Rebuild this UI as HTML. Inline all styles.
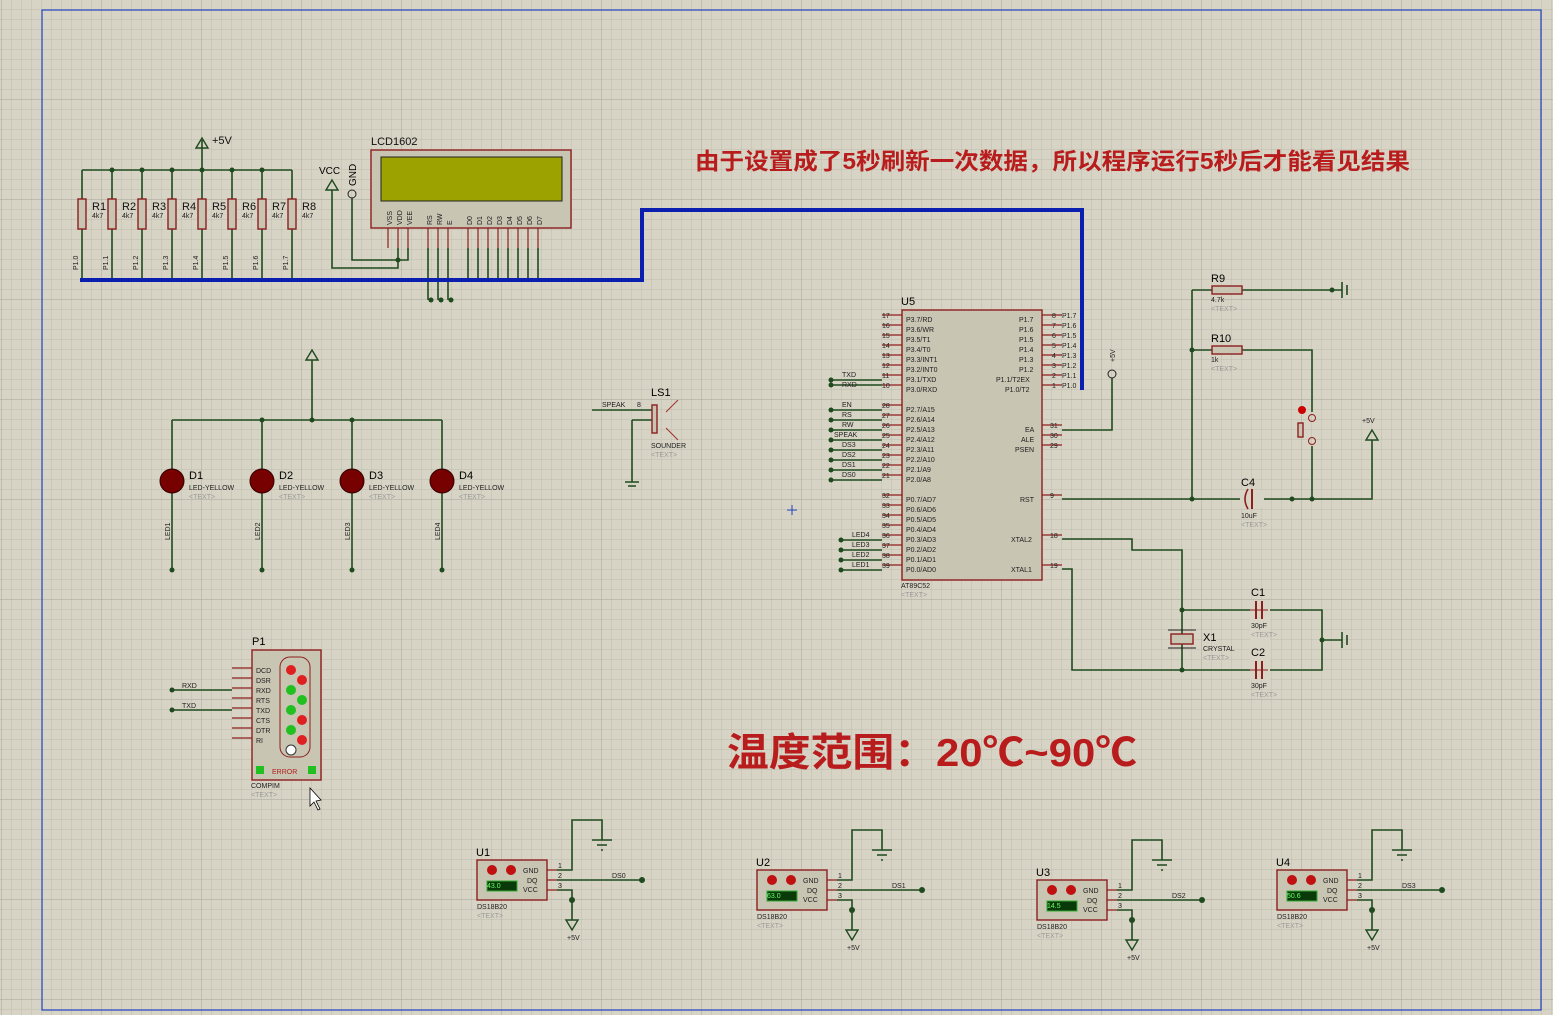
<!DOCTYPE html>
<html><head><meta charset="utf-8"><style>
html,body{margin:0;padding:0;background:#d7d4c5;}
svg{display:block;font-family:"Liberation Sans",Arial,sans-serif;}
.w{stroke:#1f4a1f;stroke-width:1.6;fill:none}
.o{stroke:#8e1e1e;stroke-width:1.4;fill:#c9c5b3}
.p{stroke:#8e1e1e;stroke-width:1.2}
.t{font-size:9px;fill:#202020}
.s{font-size:7px;fill:#202020}
.g{font-size:7px;fill:#9a9a9a}
.l{font-size:12px;fill:#101010;font-weight:bold}
.d{fill:#1f4a1f}
.r{fill:#ee4040}
</style></head><body>
<svg width="1553" height="1015" viewBox="0 0 1553 1015" xmlns="http://www.w3.org/2000/svg">
<defs>
<pattern id="gr" width="10" height="10" patternUnits="userSpaceOnUse" x="2" y="0">
<path d="M10 0V10H0" fill="none" stroke="#bebbad" stroke-width="1"/>
</pattern>
<pattern id="gr2" width="100" height="100" patternUnits="userSpaceOnUse" x="2" y="0">
<path d="M100 0V100H0" fill="none" stroke="#b0ad9f" stroke-width="1.2"/>
</pattern>
<g id="ds">
<rect x="0" y="0" width="70" height="40" class="o"/>
<circle cx="15" cy="10" r="5" fill="#c01010"/><circle cx="34" cy="10" r="5" fill="#c01010"/>
<rect x="10" y="21" width="30" height="10" fill="#0a3a0a" stroke="#3a3"/>
<text x="46" y="13" class="s">GND</text><text x="50" y="23" class="s">DQ</text><text x="46" y="32" class="s">VCC</text>
<path d="M70 10H80M70 20H80M70 30H80" class="p"/>
<text x="81" y="8" class="s">1</text><text x="81" y="18" class="s">2</text><text x="81" y="28" class="s">3</text>
<text x="0" y="49" class="s">DS18B20</text><text x="0" y="58" class="g">&lt;TEXT&gt;</text>
<path d="M80 10H95V-40H125V-20M115 -20H135M120 -15H130M124 -10H126" class="w"/>
<path d="M80 20H165M80 30H95V60" class="w"/>
<circle cx="165" cy="20" r="3" class="d"/><circle cx="95" cy="40" r="3" class="d"/>
<path d="M89 60H101L95 70Z" fill="none" stroke="#1f4a1f" stroke-width="1.4"/>
<text x="90" y="80" class="s">+5V</text>
</g>
</defs>
<rect width="1553" height="1015" fill="#d7d4c5"/>
<rect width="1553" height="1015" fill="url(#gr)"/>
<rect width="1553" height="1015" fill="url(#gr2)"/>
<rect x="42" y="10" width="1499" height="1000" fill="none" stroke="#2040c0" stroke-width="1.2"/>

<!-- resistor bank -->
<path d="M82 170H292M202 170V140" class="w"/>
<path d="M196 148L202 138L208 148Z" fill="none" stroke="#1f4a1f" stroke-width="1.4"/>
<text x="212" y="144" class="l" style="font-size:11px;font-weight:normal">+5V</text>
<g>
<path d="M82 170V280M112 170V280M142 170V280M172 170V280M202 170V280M232 170V280M262 170V280M292 170V280" class="w"/>
<g class="o">
<rect x="78" y="199" width="8" height="30"/><rect x="108" y="199" width="8" height="30"/><rect x="138" y="199" width="8" height="30"/><rect x="168" y="199" width="8" height="30"/><rect x="198" y="199" width="8" height="30"/><rect x="228" y="199" width="8" height="30"/><rect x="258" y="199" width="8" height="30"/><rect x="288" y="199" width="8" height="30"/>
</g>
<g class="d"><circle cx="112" cy="170" r="2.5"/><circle cx="142" cy="170" r="2.5"/><circle cx="172" cy="170" r="2.5"/><circle cx="202" cy="170" r="2.5"/><circle cx="232" cy="170" r="2.5"/><circle cx="262" cy="170" r="2.5"/></g>
<g style="font-size:11px;fill:#101010">
<text x="92" y="210">R1</text><text x="122" y="210">R2</text><text x="152" y="210">R3</text><text x="182" y="210">R4</text><text x="212" y="210">R5</text><text x="242" y="210">R6</text><text x="272" y="210">R7</text><text x="302" y="210">R8</text></g>
<g class="s"><text x="92" y="218">4k7</text><text x="122" y="218">4k7</text><text x="152" y="218">4k7</text><text x="182" y="218">4k7</text><text x="212" y="218">4k7</text><text x="242" y="218">4k7</text><text x="272" y="218">4k7</text><text x="302" y="218">4k7</text></g>
<g class="s">
<text transform="translate(78,270) rotate(-90)">P1.0</text><text transform="translate(108,270) rotate(-90)">P1.1</text><text transform="translate(138,270) rotate(-90)">P1.2</text><text transform="translate(168,270) rotate(-90)">P1.3</text><text transform="translate(198,270) rotate(-90)">P1.4</text><text transform="translate(228,270) rotate(-90)">P1.5</text><text transform="translate(258,270) rotate(-90)">P1.6</text><text transform="translate(288,270) rotate(-90)">P1.7</text></g>
</g>

<!-- LCD -->
<text x="371" y="145" style="font-size:11px;fill:#101010">LCD1602</text>
<rect x="371" y="150" width="200" height="78" class="o"/>
<rect x="381" y="157" width="181" height="44" fill="#9ca300" stroke="#222" stroke-width="1"/>
<g class="s">
<text transform="translate(392,225) rotate(-90)">VSS</text><text transform="translate(402,225) rotate(-90)">VDD</text><text transform="translate(412,225) rotate(-90)">VEE</text>
<text transform="translate(432,225) rotate(-90)">RS</text><text transform="translate(442,225) rotate(-90)">RW</text><text transform="translate(452,225) rotate(-90)">E</text>
<text transform="translate(472,225) rotate(-90)">D0</text><text transform="translate(482,225) rotate(-90)">D1</text><text transform="translate(492,225) rotate(-90)">D2</text><text transform="translate(502,225) rotate(-90)">D3</text><text transform="translate(512,225) rotate(-90)">D4</text><text transform="translate(522,225) rotate(-90)">D5</text><text transform="translate(532,225) rotate(-90)">D6</text><text transform="translate(542,225) rotate(-90)">D7</text>
</g>
<path d="M388 228V248M398 228V248M408 228V248M428 228V248M438 228V248M448 228V248M468 228V248M478 228V248M488 228V248M498 228V248M508 228V248M518 228V248M528 228V248M538 228V248" class="p"/>
<path d="M398 248V268H332V190M408 248V260H352V198M428 248V300M438 248V300M448 248V300M468 248V280M478 248V280M488 248V280M498 248V280M508 248V280M518 248V280M528 248V280M538 248V280" class="w"/>
<circle cx="398" cy="260" r="2.5" class="d"/>
<circle cx="431" cy="300" r="2.5" class="d"/><circle cx="441" cy="300" r="2.5" class="d"/><circle cx="451" cy="300" r="2.5" class="d"/>
<path d="M326 190L332 180L338 190Z" fill="none" stroke="#1f4a1f" stroke-width="1.4"/>
<text x="319" y="174" style="font-size:10px">VCC</text>
<circle cx="352" cy="194" r="4" fill="none" stroke="#1f1f1f"/>
<text transform="translate(356,186) rotate(-90)" style="font-size:10px">GND</text>

<!-- blue bus -->
<path d="M80 280H642V210H1082V390" fill="none" stroke="#0a1fb0" stroke-width="4"/>

<!-- top red text -->
<text x="695" y="169" textLength="715" lengthAdjust="spacingAndGlyphs" style="font-family:'Liberation Sans','Noto Sans CJK SC',sans-serif;font-size:23px;font-weight:bold;fill:#b81c1c">由于设置成了5秒刷新一次数据，所以程序运行5秒后才能看见结果</text>

<!-- LEDs -->
<path d="M312 420V360M172 420H442M172 420V570M262 420V570M352 420V570M442 420V570" class="w"/>
<path d="M306 360L312 350L318 360Z" fill="none" stroke="#1f4a1f" stroke-width="1.4"/>
<g class="d"><circle cx="262" cy="420" r="2.5"/><circle cx="312" cy="420" r="2.5"/><circle cx="352" cy="420" r="2.5"/><circle cx="172" cy="570" r="2.5"/><circle cx="262" cy="570" r="2.5"/><circle cx="352" cy="570" r="2.5"/><circle cx="442" cy="570" r="2.5"/></g>
<g fill="#700" stroke="#300"><circle cx="172" cy="481" r="12"/><circle cx="262" cy="481" r="12"/><circle cx="352" cy="481" r="12"/><circle cx="442" cy="481" r="12"/></g>
<g style="font-size:11px"><text x="189" y="479">D1</text><text x="279" y="479">D2</text><text x="369" y="479">D3</text><text x="459" y="479">D4</text></g>
<g class="s"><text x="189" y="490">LED-YELLOW</text><text x="279" y="490">LED-YELLOW</text><text x="369" y="490">LED-YELLOW</text><text x="459" y="490">LED-YELLOW</text></g>
<g class="g"><text x="189" y="499">&lt;TEXT&gt;</text><text x="279" y="499">&lt;TEXT&gt;</text><text x="369" y="499">&lt;TEXT&gt;</text><text x="459" y="499">&lt;TEXT&gt;</text></g>
<g class="s"><text transform="translate(170,540) rotate(-90)">LED1</text><text transform="translate(260,540) rotate(-90)">LED2</text><text transform="translate(350,540) rotate(-90)">LED3</text><text transform="translate(440,540) rotate(-90)">LED4</text></g>

<!-- sounder -->
<text x="651" y="396" style="font-size:11px">LS1</text>
<text x="602" y="407" class="s">SPEAK</text><text x="637" y="407" class="s">8</text>
<path d="M592 410H652M632 420H652M632 420V482M625 482H639M628 486H636" class="w"/>
<rect x="652" y="405" width="5" height="28" class="o"/>
<path d="M666 412L678 400M666 428L678 440" stroke="#a03030" fill="none"/>
<text x="651" y="448" class="s">SOUNDER</text><text x="651" y="457" class="g">&lt;TEXT&gt;</text>

<!-- U5 -->
<text x="901" y="305" style="font-size:11px">U5</text>
<rect x="902" y="310" width="140" height="270" class="o"/>
<g class="p">
<path d="M882 315H902M882 325H902M882 335H902M882 345H902M882 355H902M882 365H902M882 375H902M882 385H902M882 405H902M882 415H902M882 425H902M882 435H902M882 445H902M882 455H902M882 465H902M882 475H902M882 495H902M882 505H902M882 515H902M882 525H902M882 535H902M882 545H902M882 555H902M882 565H902"/>
<path d="M1042 315H1062M1042 325H1062M1042 335H1062M1042 345H1062M1042 355H1062M1042 365H1062M1042 375H1062M1042 385H1062M1042 425H1062M1042 435H1062M1042 445H1062M1042 495H1062M1042 535H1062M1042 565H1062"/>
</g>
<g class="s">
<text x="906" y="322">P3.7/RD</text><text x="906" y="332">P3.6/WR</text><text x="906" y="342">P3.5/T1</text><text x="906" y="352">P3.4/T0</text><text x="906" y="362">P3.3/INT1</text><text x="906" y="372">P3.2/INT0</text><text x="906" y="382">P3.1/TXD</text><text x="906" y="392">P3.0/RXD</text>
<text x="906" y="412">P2.7/A15</text><text x="906" y="422">P2.6/A14</text><text x="906" y="432">P2.5/A13</text><text x="906" y="442">P2.4/A12</text><text x="906" y="452">P2.3/A11</text><text x="906" y="462">P2.2/A10</text><text x="906" y="472">P2.1/A9</text><text x="906" y="482">P2.0/A8</text>
<text x="906" y="502">P0.7/AD7</text><text x="906" y="512">P0.6/AD6</text><text x="906" y="522">P0.5/AD5</text><text x="906" y="532">P0.4/AD4</text><text x="906" y="542">P0.3/AD3</text><text x="906" y="552">P0.2/AD2</text><text x="906" y="562">P0.1/AD1</text><text x="906" y="572">P0.0/AD0</text>
<text x="1019" y="322">P1.7</text><text x="1019" y="332">P1.6</text><text x="1019" y="342">P1.5</text><text x="1019" y="352">P1.4</text><text x="1019" y="362">P1.3</text><text x="1019" y="372">P1.2</text><text x="996" y="382">P1.1/T2EX</text><text x="1005" y="392">P1.0/T2</text>
<text x="1025" y="432">EA</text><text x="1021" y="442">ALE</text><text x="1015" y="452">PSEN</text><text x="1020" y="502">RST</text><text x="1011" y="542">XTAL2</text><text x="1011" y="572">XTAL1</text>
<text x="882" y="318">17</text><text x="882" y="328">16</text><text x="882" y="338">15</text><text x="882" y="348">14</text><text x="882" y="358">13</text><text x="882" y="368">12</text><text x="882" y="378">11</text><text x="882" y="388">10</text>
<text x="882" y="408">28</text><text x="882" y="418">27</text><text x="882" y="428">26</text><text x="882" y="438">25</text><text x="882" y="448">24</text><text x="882" y="458">23</text><text x="882" y="468">22</text><text x="882" y="478">21</text>
<text x="882" y="498">32</text><text x="882" y="508">33</text><text x="882" y="518">34</text><text x="882" y="528">35</text><text x="882" y="538">36</text><text x="882" y="548">37</text><text x="882" y="558">38</text><text x="882" y="568">39</text>
<text x="1052" y="318">8</text><text x="1052" y="328">7</text><text x="1052" y="338">6</text><text x="1052" y="348">5</text><text x="1052" y="358">4</text><text x="1052" y="368">3</text><text x="1052" y="378">2</text><text x="1052" y="388">1</text>
<text x="1062" y="318">P1.7</text><text x="1062" y="328">P1.6</text><text x="1062" y="338">P1.5</text><text x="1062" y="348">P1.4</text><text x="1062" y="358">P1.3</text><text x="1062" y="368">P1.2</text><text x="1062" y="378">P1.1</text><text x="1062" y="388">P1.0</text>
<text x="1050" y="428">31</text><text x="1050" y="438">30</text><text x="1050" y="448">29</text><text x="1050" y="498">9</text><text x="1050" y="538">18</text><text x="1050" y="568">19</text>
<text x="901" y="588">AT89C52</text>
</g>
<text x="901" y="597" class="g">&lt;TEXT&gt;</text>
<path d="M830 380H882M830 385H882M830 410H882M830 420H882M830 430H882M830 440H882M830 450H882M830 460H882M830 470H882M830 480H882M840 540H882M840 550H882M840 560H882M840 570H882" class="w"/>
<g class="d"><circle cx="831" cy="380" r="2.5"/><circle cx="831" cy="385" r="2.5"/><circle cx="831" cy="410" r="2.5"/><circle cx="831" cy="420" r="2.5"/><circle cx="831" cy="430" r="2.5"/><circle cx="831" cy="440" r="2.5"/><circle cx="831" cy="450" r="2.5"/><circle cx="831" cy="460" r="2.5"/><circle cx="831" cy="470" r="2.5"/><circle cx="831" cy="480" r="2.5"/><circle cx="841" cy="540" r="2.5"/><circle cx="841" cy="550" r="2.5"/><circle cx="841" cy="560" r="2.5"/><circle cx="841" cy="570" r="2.5"/></g>
<g class="s"><text x="842" y="377">TXD</text><text x="842" y="387">RXD</text><text x="842" y="407">EN</text><text x="842" y="417">RS</text><text x="842" y="427">RW</text><text x="834" y="437">SPEAK</text><text x="842" y="447">DS3</text><text x="842" y="457">DS2</text><text x="842" y="467">DS1</text><text x="842" y="477">DS0</text>
<text x="852" y="537">LED4</text><text x="852" y="547">LED3</text><text x="852" y="557">LED2</text><text x="852" y="567">LED1</text></g>
<path d="M1062 430H1112V378" class="w"/><circle cx="1112" cy="374" r="4" fill="none" stroke="#1f1f1f"/>
<text transform="translate(1115,362) rotate(-90)" class="s">+5V</text>

<!-- reset circuit -->
<path d="M1062 499H1372V440M1192 290V499M1192 290H1212M1242 290H1342M1192 350H1212M1242 350H1312V412M1312 446V499" class="w"/>
<path d="M1366 440L1372 430L1378 440Z" fill="none" stroke="#1f4a1f" stroke-width="1.4"/>
<text x="1362" y="423" class="s">+5V</text>
<path d="M1342 282V298M1347 285V295" stroke="#1f4a1f" stroke-width="1.6"/>
<rect x="1212" y="286" width="30" height="8" class="o"/><rect x="1212" y="346" width="30" height="8" class="o"/>
<text x="1211" y="282" style="font-size:11px">R9</text><text x="1211" y="342" style="font-size:11px">R10</text>
<text x="1211" y="302" class="s">4.7k</text><text x="1211" y="311" class="g">&lt;TEXT&gt;</text>
<text x="1211" y="362" class="s">1k</text><text x="1211" y="371" class="g">&lt;TEXT&gt;</text>
<circle cx="1312" cy="418" r="3.5" fill="none" stroke="#8e1e1e"/><circle cx="1312" cy="441" r="3.5" fill="none" stroke="#8e1e1e"/>
<rect x="1298" y="423" width="5" height="14" class="o"/><circle cx="1302" cy="410" r="4" fill="#c00"/>
<rect x="1240" y="490" width="24" height="18" fill="#d7d4c5"/>
<path d="M1252 489V509" stroke="#8e1e1e" stroke-width="2"/><path d="M1248 489Q1242 499 1248 509" fill="none" stroke="#8e1e1e" stroke-width="1.6"/>
<text x="1241" y="486" style="font-size:11px">C4</text><text x="1241" y="518" class="s">10uF</text><text x="1241" y="527" class="g">&lt;TEXT&gt;</text>
<g class="d"><circle cx="1332" cy="290" r="2.5"/><circle cx="1192" cy="350" r="2.5"/><circle cx="1192" cy="499" r="2.5"/><circle cx="1292" cy="499" r="2.5"/><circle cx="1312" cy="499" r="2.5"/></g>

<!-- crystal -->
<path d="M1062 539H1132V550H1182V670M1062 569H1072V670H1252M1182 610H1252M1268 610H1322V670H1268M1322 640H1342" class="w"/>
<rect x="1250" y="600" width="20" height="80" fill="#d7d4c5"/>
<path d="M1256 601V619M1262 601V619M1256 661V679M1262 661V679" stroke="#8e1e1e" stroke-width="2"/>
<path d="M1250 610H1268M1250 670H1268" stroke="#8e1e1e"/>
<path d="M1342 632V648M1347 635V645" stroke="#1f4a1f" stroke-width="1.6"/>
<rect x="1171" y="634" width="22" height="10" class="o"/><path d="M1168 630H1196M1168 648H1196" stroke="#1f1f1f"/>
<g class="d"><circle cx="1182" cy="610" r="2.5"/><circle cx="1182" cy="670" r="2.5"/><circle cx="1322" cy="640" r="2.5"/></g>
<text x="1251" y="596" style="font-size:11px">C1</text><text x="1251" y="656" style="font-size:11px">C2</text>
<text x="1203" y="641" style="font-size:11px">X1</text><text x="1203" y="651" class="s">CRYSTAL</text><text x="1203" y="660" class="g">&lt;TEXT&gt;</text>
<text x="1251" y="628" class="s">30pF</text><text x="1251" y="637" class="g">&lt;TEXT&gt;</text>
<text x="1251" y="688" class="s">30pF</text><text x="1251" y="697" class="g">&lt;TEXT&gt;</text>

<!-- COMPIM -->
<text x="252" y="645" style="font-size:11px">P1</text>
<rect x="252" y="650" width="69" height="130" class="o"/>
<rect x="280" y="657" width="30" height="100" rx="10" fill="#c9c5b3" stroke="#8e1e1e"/>
<g><circle cx="291" cy="670" r="5" fill="#e02020"/><circle cx="302" cy="680" r="5" fill="#e02020"/><circle cx="291" cy="690" r="5" fill="#20c020"/><circle cx="302" cy="700" r="5" fill="#20c020"/><circle cx="291" cy="710" r="5" fill="#20c020"/><circle cx="302" cy="720" r="5" fill="#e02020"/><circle cx="291" cy="730" r="5" fill="#20c020"/><circle cx="302" cy="740" r="5" fill="#e02020"/><circle cx="291" cy="750" r="5" fill="#fff" stroke="#333"/></g>
<g class="s"><text x="256" y="673">DCD</text><text x="256" y="683">DSR</text><text x="256" y="693">RXD</text><text x="256" y="703">RTS</text><text x="256" y="713">TXD</text><text x="256" y="723">CTS</text><text x="256" y="733">DTR</text><text x="256" y="743">RI</text></g>
<path d="M232 668H252M232 678H252M232 688H252M232 698H252M232 708H252M232 718H252M232 728H252M232 738H252" class="p"/>
<rect x="256" y="766" width="8" height="8" fill="#20c020"/><rect x="308" y="766" width="8" height="8" fill="#20c020"/>
<text x="272" y="774" style="font-size:7px;fill:#b02020">ERROR</text>
<text x="251" y="788" class="s">COMPIM</text><text x="251" y="797" class="g">&lt;TEXT&gt;</text>
<path d="M172 690H232M172 710H232" class="w"/><circle cx="172" cy="690" r="2.5" class="d"/><circle cx="172" cy="710" r="2.5" class="d"/>
<text x="182" y="688" class="s">RXD</text><text x="182" y="708" class="s">TXD</text>
<path d="M310 788V806L314 802L318 810L320 809L316 801L321 800Z" fill="#fff" stroke="#000" stroke-width="0.8"/>

<!-- big text -->
<text x="727" y="766" textLength="410" lengthAdjust="spacingAndGlyphs" style="font-family:'Liberation Sans','Noto Sans CJK SC',sans-serif;font-size:39px;font-weight:bold;fill:#b81c1c">温度范围：20℃~90℃</text>

<!-- DS18B20s -->
<text x="476" y="856" style="font-size:11px">U1</text>
<use href="#ds" transform="translate(477,860)"/>
<text x="612" y="878" class="s">DS0</text>
<text x="756" y="866" style="font-size:11px">U2</text>
<use href="#ds" transform="translate(757,870)"/>
<text x="892" y="888" class="s">DS1</text>
<text x="1036" y="876" style="font-size:11px">U3</text>
<use href="#ds" transform="translate(1037,880)"/>
<text x="1172" y="898" class="s">DS2</text>
<text x="1276" y="866" style="font-size:11px">U4</text>
<use href="#ds" transform="translate(1277,870)"/>
<text x="1402" y="888" class="s">DS3</text>
<text x="487" y="888" style="font-size:7px;fill:#6f6">43.0</text>
<text x="767" y="898" style="font-size:7px;fill:#6f6">63.0</text>
<text x="1047" y="908" style="font-size:7px;fill:#6f6">14.5</text>
<text x="1287" y="898" style="font-size:7px;fill:#6f6">50.6</text>
<path d="M787 510H797M792 505V515" stroke="#2040c0"/>
</svg>
</body></html>
